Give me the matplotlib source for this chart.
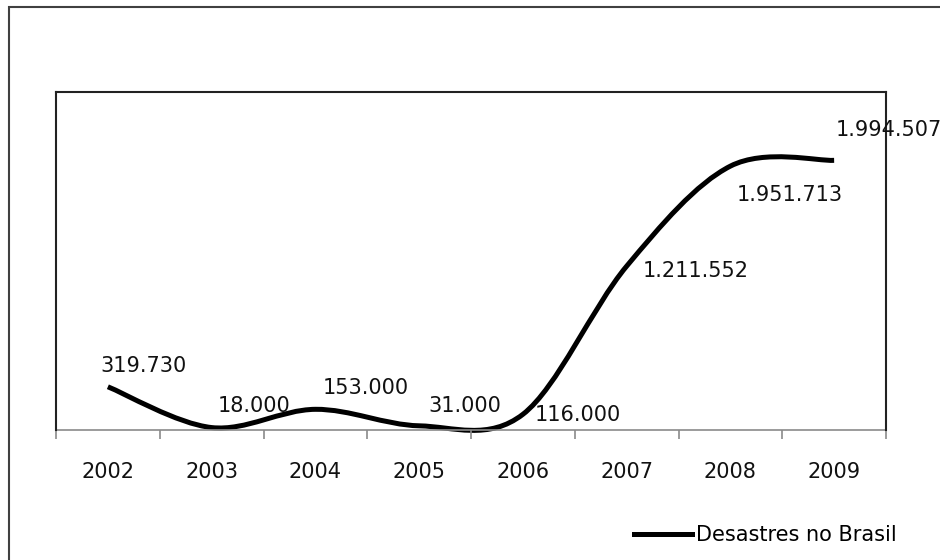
import numpy as np
import matplotlib
matplotlib.use('Agg')
import matplotlib.pyplot as plt
from matplotlib.path import Path
from matplotlib.patches import PathPatch, Rectangle


# dados
anos = ['2002', '2003', '2004', '2005', '2006', '2007', '2008', '2009']
desastres = [319730, 18000, 153000, 31000, 116000, 1211552, 1951713, 1994507]
serie = 'Desastres no Brasil'

# deslocamento dos rotulos (pixels, canto esquerdo / linha de base)
desloc = [(-7, 15), (6, 16), (7, 15), (9, 14), (12, -7), (16, -11), (6, -35), (2, 24)]

plt.rcParams['font.family'] = ['DejaVu Sans']
fig = plt.figure(figsize=(9.4, 5.6), dpi=100)
ax = fig.add_axes([56 / 940, 1 - 430 / 560, 830 / 940, 338 / 560])

x = np.arange(len(anos), dtype=float)
y = np.array(desastres, dtype=float)

# curva suavizada (bezier estilo excel)
verts = [(x[0], y[0])]
codes = [Path.MOVETO]
n = len(x)
for i in range(n - 1):
    i0 = max(i - 1, 0)
    i3 = min(i + 2, n - 1)
    c1 = (x[i] + (x[i + 1] - x[i0]) / 6, y[i] + (y[i + 1] - y[i0]) / 6)
    c2 = (x[i + 1] - (x[i3] - x[i]) / 6, y[i + 1] - (y[i3] - y[i]) / 6)
    verts += [c1, c2, (x[i + 1], y[i + 1])]
    codes += [Path.CURVE4] * 3
curva = PathPatch(Path(verts, codes), facecolor='none', edgecolor='black',
                  lw=3.6, capstyle='butt', joinstyle='round', clip_on=False)
ax.add_patch(curva)
ax.plot([], [], color='black', lw=3.6, label=serie)

for xi, yi, (dx, dy) in zip(x, y, desloc):
    txt = f"{int(yi):,}".replace(',', '.')
    ax.annotate(txt, (xi, yi), xytext=(dx, dy), textcoords='offset pixels',
                ha='left', va='baseline', fontsize=15, color='#111111',
                annotation_clip=False)

ax.set_xlim(-0.5, n - 0.5)
ax.set_ylim(0, 2500000)
ax.set_yticks([])
ax.set_xticks(np.arange(-0.5, n, 1.0))
ax.set_xticklabels([])
ax.set_xticks(x, minor=True)
ax.set_xticklabels(anos, minor=True, fontsize=15, color='#111111')
ax.tick_params(axis='x', which='major', length=6.5, width=1.2, color='#8a8a8a', direction='out')
ax.tick_params(axis='x', which='minor', length=0, pad=23)

for s in ['left', 'top', 'right']:
    ax.spines[s].set_color('#222222')
    ax.spines[s].set_linewidth(1.5)
ax.spines['bottom'].set_color('#8a8a8a')
ax.spines['bottom'].set_linewidth(1.2)
ax.spines['bottom'].set_zorder(1)

# moldura externa
fig.add_artist(Rectangle((9 / 940, -0.1), 1.2, 1.1 - 7 / 560, transform=fig.transFigure,
                         fill=False, edgecolor='#404040', lw=1.5))

fig.legend(loc='center left', bbox_to_anchor=(634 / 940, 1 - 535 / 560), frameon=False,
           fontsize=15, handlelength=2.8, handletextpad=0.2, borderpad=0, borderaxespad=0)

fig.savefig('out.png', dpi=100)
